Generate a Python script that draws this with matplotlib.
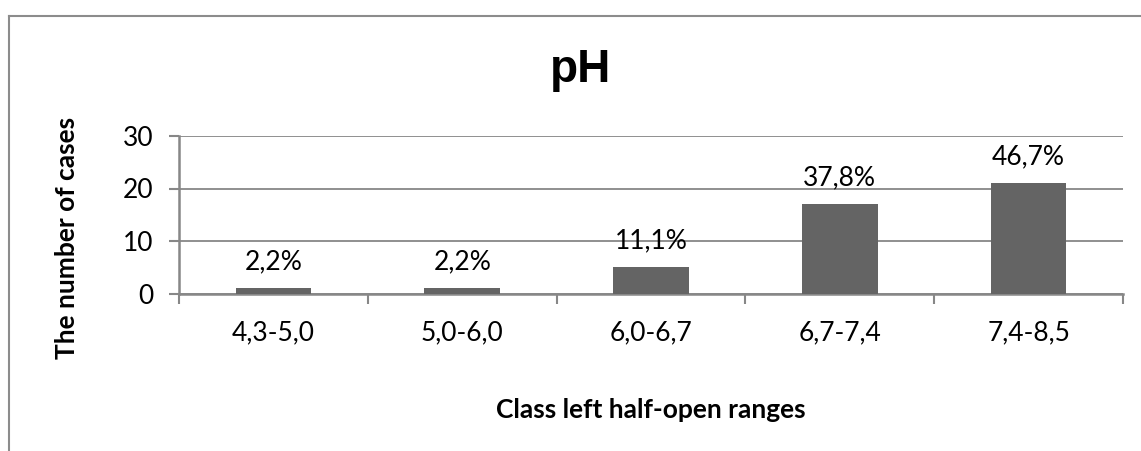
import matplotlib
matplotlib.use("Agg")
import matplotlib.pyplot as plt
from matplotlib.lines import Line2D
import numpy as np

categories = ["4,3-5,0", "5,0-6,0", "6,0-6,7", "6,7-7,4", "7,4-8,5"]
counts = [1, 1, 5, 17, 21]
pct_labels = ["2,2%", "2,2%", "11,1%", "37,8%", "46,7%"]
yticks = [0, 10, 20, 30]

W, H = 1141, 451
fig = plt.figure(figsize=(W / 100, H / 100), dpi=100)
fig.patch.set_facecolor("white")

# plot area in pixel coords
x0, x1 = 179, 1123
y_top, y_bot = 136, 293.5
ax = fig.add_axes([x0 / W, 1 - y_bot / H, (x1 - x0) / W, (y_bot - y_top) / H])

grid_c = "#878787"
bar_c = "#646464"
font = "Lato"
fs = 19

x = np.arange(len(categories))
ax.bar(x, counts, width=0.40, color=bar_c, zorder=3)
ax.set_xlim(-0.5, len(categories) - 0.5)
ax.set_ylim(0, 30)
ax.set_yticks(yticks)
ax.set_yticklabels([str(v) for v in yticks], family=font, fontsize=fs)
ax.yaxis.grid(True, color=grid_c, linewidth=1.3, zorder=0)
ax.set_xticks(x)
ax.set_xticklabels(categories, family=font, fontsize=fs)
ax.set_xticks(np.arange(len(categories) + 1) - 0.5, minor=True)
ax.tick_params(axis="x", which="major", length=0, pad=19)
ax.tick_params(axis="x", which="minor", length=7.5, width=1.5, color=grid_c, direction="out")
ax.tick_params(axis="y", which="major", length=7.5, width=1.5, color=grid_c, direction="out", pad=11)
for s in ["top", "right"]:
    ax.spines[s].set_visible(False)
for s in ["left", "bottom"]:
    ax.spines[s].set_color(grid_c)
    ax.spines[s].set_linewidth(1.8)

for xi, c, lab in zip(x, counts, pct_labels):
    ax.annotate(lab, (xi, c), xytext=(0, 19), textcoords="offset points",
                ha="center", va="center", family=font, fontsize=fs)

fig.text(581 / W, 1 - 70 / H, "pH", ha="center", va="center",
         family="Liberation Sans", fontweight="bold", fontsize=33)
fig.text(651 / W, 1 - 410 / H, "Class left half-open ranges", ha="center", va="center",
         family=font, fontweight="bold", fontsize=fs)
fig.text(67 / W, 1 - 238 / H, "The number of cases", ha="center", va="center",
         rotation=90, family=font, fontweight="bold", fontsize=fs)

# outer chart frame (left & top visible)
fig.add_artist(Line2D([9 / W, 9 / W], [0, 1 - 16 / H], transform=fig.transFigure,
                      color="#8c8c8c", linewidth=1.5))
fig.add_artist(Line2D([9 / W, 1], [1 - 16 / H, 1 - 16 / H], transform=fig.transFigure,
                      color="#8c8c8c", linewidth=1.5))

fig.savefig("out.png", dpi=100, facecolor="white")
